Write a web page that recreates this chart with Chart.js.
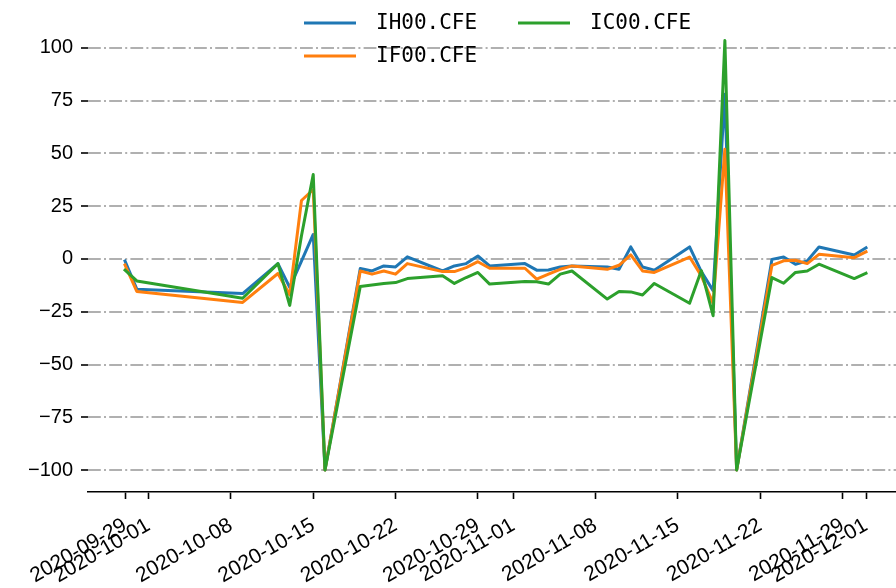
<!DOCTYPE html>
<html>
<head>
<meta charset="utf-8">
<script src="https://cdn.jsdelivr.net/npm/chart.js@4/dist/chart.umd.min.js"></script>
<style>
  html, body { margin: 0; padding: 0; background: #fff; }
</style>
</head>
<body>
<canvas id="c" width="896" height="588"></canvas>
<script>
// trading days
const dates = ['2020-09-29','2020-09-30','2020-10-09','2020-10-12','2020-10-13','2020-10-14','2020-10-15','2020-10-16',
  '2020-10-19','2020-10-20','2020-10-21','2020-10-22','2020-10-23','2020-10-26','2020-10-27','2020-10-28','2020-10-29','2020-10-30',
  '2020-11-02','2020-11-03','2020-11-04','2020-11-05','2020-11-06','2020-11-09','2020-11-10','2020-11-11','2020-11-12','2020-11-13',
  '2020-11-16','2020-11-17','2020-11-18','2020-11-19','2020-11-20','2020-11-23','2020-11-24','2020-11-25','2020-11-26','2020-11-27',
  '2020-11-30','2020-12-01'];

const ih00 = [-1, -14.3, -16.4, -2.2, -13.5, -1, 11.6, -100,
  -4.5, -5.7, -3.3, -3.8, 1, -5.7, -3.3, -2.2, 1.4, -3.3,
  -2.2, -5.3, -5.2, -3.8, -3.3, -3.8, -4.9, 5.7, -3.8, -5.3,
  5.7, -6, -15, 78, -100, -0.2, 0.9, -2.5, -0.9, 5.7,
  1.9, 5.3];
const if00 = [-2.9, -15.4, -20.6, -6.9, -17, 27.7, 32.9, -100,
  -5.7, -7.2, -5.7, -7.2, -2.2, -6, -6, -4.1, -1.3, -4.4,
  -4.4, -9.6, -7.2, -4.9, -3.3, -4.9, -3, 1.9, -5.7, -6.4,
  0.9, -8, -21, 52, -100, -3, -0.9, -0.6, -2.2, 2.2,
  0.6, 3.4];
const ic00 = [-5.3, -10.4, -18.6, -2.2, -22, 11, 40, -100,
  -13, -12.3, -11.6, -11.2, -9.3, -8, -11.6, -8.8, -6.4, -11.9,
  -10.7, -10.8, -11.9, -7.2, -5.7, -19, -15.4, -15.6, -17.1, -11.6,
  -21, -5.5, -26.9, 103.5, -100, -8.8, -11.5, -6.4, -5.7, -2.5,
  -9.3, -6.8];

const dateTicks = ['2020-09-29','2020-10-01','2020-10-08','2020-10-15','2020-10-22','2020-10-29',
  '2020-11-01','2020-11-08','2020-11-15','2020-11-22','2020-11-29','2020-12-01'];
const yTicks = [-100, -75, -50, -25, 0, 25, 50, 75, 100];

const DAY = 86400000;
const t0 = Date.UTC(2020, 8, 29);
function dayOf(s) {
  const p = s.split('-');
  return (Date.UTC(+p[0], +p[1] - 1, +p[2]) - t0) / DAY;
}
function labelOf(d) {
  return new Date(t0 + Math.round(d) * DAY).toISOString().slice(0, 10);
}
function pts(vals) {
  return vals.map((v, i) => ({ x: dayOf(dates[i]), y: v }));
}

// legend drawn matplotlib-style, inside the axes
const legendPlugin = {
  id: 'mplLegend',
  afterDraw(chart) {
    const ctx = chart.ctx;
    const slots = [[0, 304, 23], [1, 304, 56], [2, 518, 23]];
    ctx.save();
    ctx.font = '21px "DejaVu Sans Mono"';
    ctx.textBaseline = 'middle';
    slots.forEach(([i, x, y]) => {
      const ds = chart.data.datasets[i];
      ctx.strokeStyle = ds.borderColor;
      ctx.lineWidth = 3;
      ctx.lineCap = 'square';
      ctx.beginPath();
      ctx.moveTo(x + 1.5, y);
      ctx.lineTo(x + 50.5, y);
      ctx.stroke();
      ctx.fillStyle = '#000';
      ctx.fillText(ds.label, x + 72, y + 1);
    });
    ctx.restore();
  }
};

const common = { borderWidth: 3, pointRadius: 0, tension: 0, fill: false,
  borderJoinStyle: 'round', borderCapStyle: 'square' };

new Chart(document.getElementById('c').getContext('2d'), {
  type: 'line',
  data: {
    datasets: [
      Object.assign({ label: 'IH00.CFE', data: pts(ih00), borderColor: '#1f77b4', order: 2 }, common),
      Object.assign({ label: 'IF00.CFE', data: pts(if00), borderColor: '#ff7f0e', order: 1 }, common),
      Object.assign({ label: 'IC00.CFE', data: pts(ic00), borderColor: '#2ca02c', order: 0 }, common)
    ]
  },
  options: {
    responsive: false,
    animation: false,
    layout: { padding: { top: 18, right: 0, bottom: 0, left: 0 } },
    plugins: { legend: { display: false }, tooltip: { enabled: false } },
    scales: {
      x: {
        type: 'linear',
        min: -3.15,
        max: 65.55,
        afterBuildTicks: (s) => { s.ticks = dateTicks.map(d => ({ value: dayOf(d) })); },
        afterFit: (s) => { s.height = 96; },
        ticks: {
          autoSkip: false, minRotation: 30, maxRotation: 30, padding: 14,
          color: '#000', font: { family: '"Liberation Sans", Arial, sans-serif', size: 21 },
          callback: (v) => labelOf(v)
        },
        grid: { drawOnChartArea: false, drawTicks: true, tickLength: 7, tickColor: '#000', tickWidth: 1.6 },
        border: { display: true, color: '#000', width: 1.6 }
      },
      y: {
        min: -110.4,
        max: 113.2,
        afterBuildTicks: (s) => { s.ticks = yTicks.map(v => ({ value: v })); },
        afterFit: (s) => { s.width = 88; },
        ticks: {
          padding: 8, color: '#000', font: { family: '"Liberation Sans", Arial, sans-serif', size: 20 },
          callback: (v) => v < 0 ? '\u2212' + Math.abs(v) : String(v)
        },
        grid: { color: '#b0b0b0', lineWidth: 2, drawTicks: true, tickLength: 7, tickColor: '#000', tickWidth: 1.6, tickBorderDash: [] },
        border: { display: false, dash: [12.8, 3.2, 2, 3.2] }
      }
    }
  },
  plugins: [legendPlugin]
});
</script>
</body>
</html>
